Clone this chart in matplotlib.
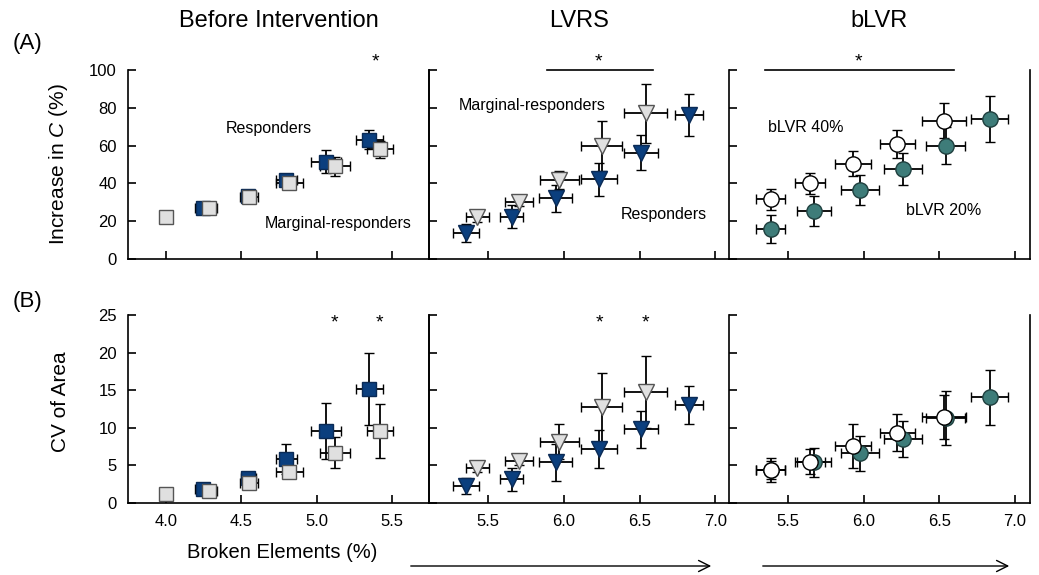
import matplotlib
matplotlib.use("Agg")
import matplotlib.pyplot as plt

plt.rcParams['font.family'] = ['Liberation Sans', 'DejaVu Sans']
plt.rcParams['mathtext.fontset'] = 'custom'
plt.rcParams['mathtext.rm'] = 'Liberation Sans'
plt.rcParams['mathtext.it'] = 'Liberation Sans:italic'

# ---------------- data ----------------
panel_titles = ["Before Intervention", "LVRS", "bLVR"]

# Before intervention (squares)
pre_resp_x = [4.245, 4.545, 4.80, 5.06, 5.35]
pre_resp_xerr = [0.05, 0.05, 0.07, 0.10, 0.09]
pre_resp_c = [27, 33.5, 42, 51.5, 63]
pre_resp_c_err = [2, 2, 2, 6, 5]
pre_resp_cv = [1.8, 3.3, 5.85, 9.6, 15.2]
pre_resp_cv_err = [0.4, 0.5, 1.97, 3.7, 4.8]

pre_marg_x = [4.0, 4.286, 4.55, 4.82, 5.12, 5.42]
pre_marg_xerr = [0.0, 0.05, 0.06, 0.09, 0.10, 0.085]
pre_marg_c = [22, 27, 33, 40, 49, 58]
pre_marg_c_err = [0.5, 1.5, 1.5, 2, 5, 4.5]
pre_marg_cv = [1.15, 1.65, 2.7, 4.1, 6.7, 9.6]
pre_marg_cv_err = [0.2, 0.4, 0.5, 0.7, 2.06, 3.55]

# LVRS (triangles)
lv_resp_x = [5.354, 5.656, 5.947, 6.233, 6.51, 6.825]
lv_resp_xerr = [0.085, 0.077, 0.11, 0.118, 0.11, 0.094]
lv_resp_c = [13.6, 22.4, 32.1, 42.2, 56.3, 76.3]
lv_resp_c_err = [4.7, 6, 7, 8.7, 9.1, 11]
lv_resp_cv = [2.26, 3.15, 5.4, 7.2, 9.8, 13.0]
lv_resp_cv_err = [1.06, 1.55, 2.44, 2.57, 2.48, 2.53]

lv_marg_x = [5.43, 5.705, 5.97, 6.25, 6.54]
lv_marg_xerr = [0.078, 0.094, 0.127, 0.137, 0.14]
lv_marg_c = [22.4, 30, 41.9, 59.9, 77.2]
lv_marg_c_err = [2.6, 2, 4.9, 13.2, 15.6]
lv_marg_cv = [4.7, 5.6, 8.15, 12.7, 14.8]
lv_marg_cv_err = [0.6, 0.5, 2.35, 4.6, 4.77]

# bLVR (circles)
b20_x = [5.385, 5.673, 5.975, 6.26, 6.543, 6.834]
b20_xerr = [0.095, 0.111, 0.124, 0.127, 0.129, 0.123]
b20_c = [15.9, 25.4, 36.6, 47.7, 59.9, 74]
b20_c_err = [7.3, 7.7, 7.8, 8.4, 9.7, 12]
b20_cv = [4.4, 5.4, 6.6, 8.5, 11.3, 14.05]
b20_cv_err = [1.2, 1.9, 2.37, 2.44, 3.55, 3.7]

b40_x = [5.385, 5.645, 5.93, 6.224, 6.53]
b40_xerr = [0.095, 0.097, 0.121, 0.118, 0.147]
b40_c = [31.6, 40.1, 50.3, 60.8, 73.1]
b40_c_err = [5.6, 5.5, 6.6, 7.2, 9.3]
b40_cv = [4.39, 5.5, 7.6, 9.35, 11.4]
b40_cv_err = [1.62, 1.7, 2.95, 2.48, 2.9]

left_xticks = [4.0, 4.5, 5.0, 5.5]
right_xticks = [5.5, 6.0, 6.5, 7.0]
c_yticks = [0, 20, 40, 60, 80, 100]
cv_yticks = [0, 5, 10, 15, 20, 25]

# ---------------- style ----------------
DARK = "#0b3f7e"
GRAY = "#e0e0e0"
TEAL = "#3e7c79"
W, H = 1039, 575
fig = plt.figure(figsize=(W / 100, H / 100), dpi=100)

cols = [(128, 429), (429, 729), (729, 1030)]
rows = [(70, 259), (315, 503)]
xlims = [(3.748, 5.746), (5.11, 7.09), (5.11, 7.10)]

axes = {}
for r, (yt, yb) in enumerate(rows):
    for c, (xl, xr) in enumerate(cols):
        ax = fig.add_axes([xl / W, 1 - yb / H, (xr - xl) / W, (yb - yt) / H])
        ax.set_facecolor("none")
        ax.set_xlim(*xlims[c])
        if r == 0:
            ax.set_ylim(0, 100)
            ax.set_yticks(c_yticks)
        else:
            ax.set_ylim(0, 25)
            ax.set_yticks(cv_yticks)
        ax.set_xticks(left_xticks if c == 0 else right_xticks)
        ax.tick_params(direction="in", length=6, width=1.2, labelsize=12,
                       pad=8, right=False, top=False)
        ax.spines["top"].set_visible(False)
        for s in ax.spines.values():
            s.set_linewidth(1.2)
        if c == 1:
            ax.spines["right"].set_visible(False)
        if c != 0:
            ax.set_yticklabels([])
        if r == 0:
            ax.set_xticklabels([])
        else:
            ax.set_xticklabels([f"{t:.1f}" for t in (left_xticks if c == 0 else right_xticks)])
        axes[(r, c)] = ax

ebkw = dict(ecolor="black", elinewidth=1.3, capsize=3.5, capthick=1.3, linestyle="none")

def draw(ax, x, xe, y, ye, marker, fc, ec, ms=10):
    ax.errorbar(x, y, xerr=xe, yerr=ye, fmt=marker, ms=ms, mfc=fc, mec=ec,
                mew=1.0, **ebkw)

# Top row
draw(axes[(0, 0)], pre_resp_x, pre_resp_xerr, pre_resp_c, pre_resp_c_err, "s", DARK, "#0a2a55")
draw(axes[(0, 0)], pre_marg_x, pre_marg_xerr, pre_marg_c, pre_marg_c_err, "s", GRAY, "#555555")
draw(axes[(0, 1)], lv_resp_x, lv_resp_xerr, lv_resp_c, lv_resp_c_err, "v", DARK, "#0a2a55", 11)
draw(axes[(0, 1)], lv_marg_x, lv_marg_xerr, lv_marg_c, lv_marg_c_err, "v", GRAY, "#555555", 11)
draw(axes[(0, 2)], b20_x, b20_xerr, b20_c, b20_c_err, "o", TEAL, "#1f3f3e", 11)
draw(axes[(0, 2)], b40_x, b40_xerr, b40_c, b40_c_err, "o", "white", "black", 11)

# Bottom row
draw(axes[(1, 0)], pre_resp_x, pre_resp_xerr, pre_resp_cv, pre_resp_cv_err, "s", DARK, "#0a2a55")
draw(axes[(1, 0)], pre_marg_x, pre_marg_xerr, pre_marg_cv, pre_marg_cv_err, "s", GRAY, "#555555")
draw(axes[(1, 1)], lv_resp_x, lv_resp_xerr, lv_resp_cv, lv_resp_cv_err, "v", DARK, "#0a2a55", 11)
draw(axes[(1, 1)], lv_marg_x, lv_marg_xerr, lv_marg_cv, lv_marg_cv_err, "v", GRAY, "#555555", 11)
draw(axes[(1, 2)], b20_x, b20_xerr, b20_cv, b20_cv_err, "o", TEAL, "#1f3f3e", 11)
draw(axes[(1, 2)], b40_x, b40_xerr, b40_cv, b40_cv_err, "o", "white", "black", 11)

# Annotations
tk = dict(fontsize=11.5, ha="center", va="center")
axes[(0, 0)].text(4.68, 69, "Responders", **tk)
axes[(0, 0)].text(5.14, 19, "Marginal-responders", **tk)
axes[(0, 1)].text(5.79, 81, "Marginal-responders", **tk)
axes[(0, 1)].text(6.66, 23.7, "Responders", **tk)
axes[(0, 2)].text(5.62, 69.6, "bLVR 40%", **tk)
axes[(0, 2)].text(6.53, 25.6, "bLVR 20%", **tk)

sk = dict(fontsize=14, ha="center", va="center", clip_on=False)
axes[(0, 0)].text(5.39, 104.5, "*", **sk)
axes[(0, 1)].text(6.23, 104.5, "*", **sk)
axes[(0, 2)].text(5.964, 104.5, "*", **sk)
axes[(0, 1)].plot([5.89, 6.59], [100, 100], color="black", lw=1.2, clip_on=False)
axes[(0, 2)].plot([5.348, 6.598], [100, 100], color="black", lw=1.2, clip_on=False)
axes[(1, 0)].text(5.12, 24.0, "*", **sk)
axes[(1, 0)].text(5.415, 24.0, "*", **sk)
axes[(1, 1)].text(6.237, 24.0, "*", **sk)
axes[(1, 1)].text(6.537, 24.0, "*", **sk)

# Axis labels
axes[(0, 0)].set_ylabel(r"Increase in $\mathit{C}$ (%)", fontsize=15)
axes[(0, 0)].yaxis.set_label_coords(-0.193, 0.5)
axes[(1, 0)].set_ylabel("CV of Area", fontsize=15)
axes[(1, 0)].yaxis.set_label_coords(-0.193, 0.54)

# Titles and panel letters
for (xl, xr), t in zip(cols, panel_titles):
    fig.text((xl + xr) / 2 / W, 1 - 21 / H, t, fontsize=17, ha="center", va="center")
fig.text(27 / W, 1 - 44 / H, "(A)", fontsize=16, ha="center", va="center")
fig.text(27 / W, 1 - 302 / H, "(B)", fontsize=16, ha="center", va="center")

# Bottom label and arrows
fig.text(282 / W, 1 - 553 / H, "Broken Elements (%)", fontsize=14.5, ha="center", va="center")
for x0, x1 in [(408, 714), (760, 1012)]:
    fig.add_artist(matplotlib.patches.FancyArrowPatch(
        (x0 / W, 1 - 566 / H), (x1 / W, 1 - 566 / H), transform=fig.transFigure,
        arrowstyle="->,head_length=8,head_width=4", mutation_scale=1, lw=1.0, color="black"))

fig.savefig("out.png", dpi=100)
